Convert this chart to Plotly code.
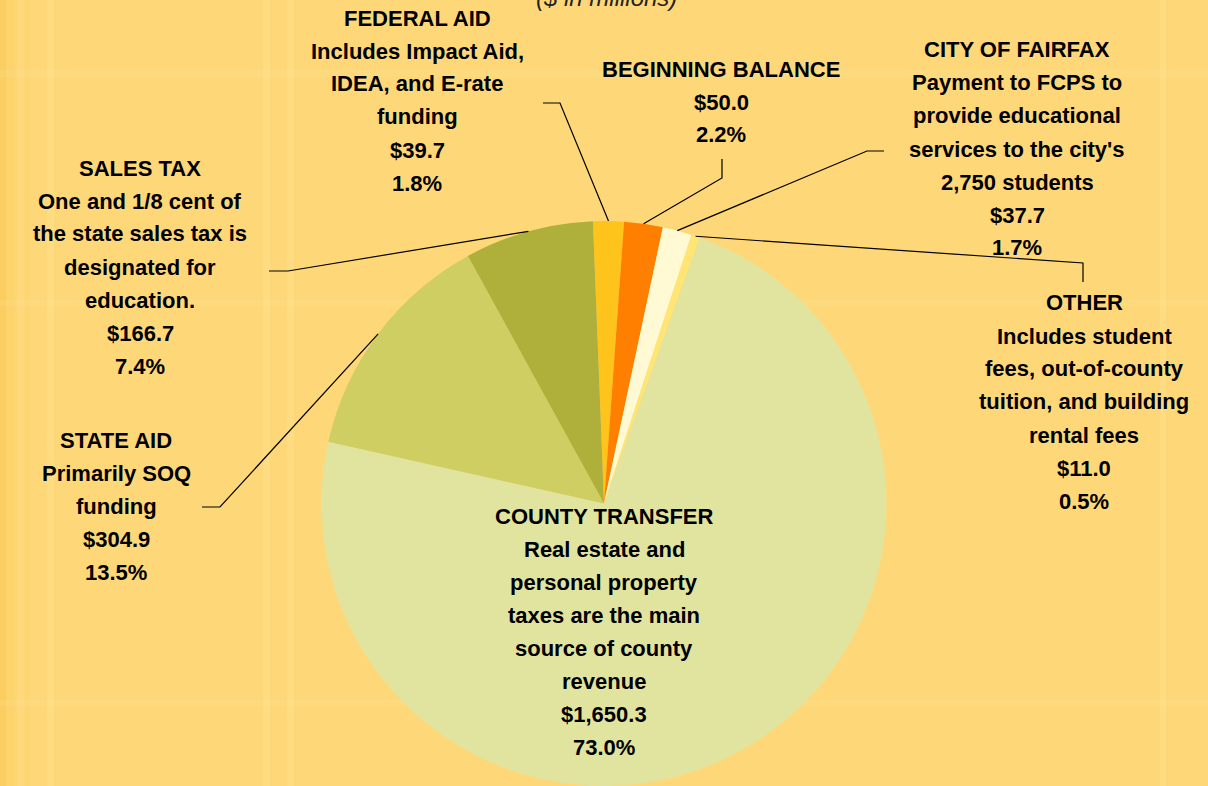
import math
import plotly.graph_objects as go

W, H = 1208, 786

# ---- data ----
categories = ["FEDERAL AID", "BEGINNING BALANCE", "CITY OF FAIRFAX", "OTHER",
              "COUNTY TRANSFER", "STATE AID", "SALES TAX"]
values = [39.7, 50.0, 37.7, 11.0, 1650.3, 304.9, 166.7]
descriptions = [
    ["Includes Impact Aid,", "IDEA, and E-rate", "funding"],
    [],
    ["Payment to FCPS to", "provide educational", "services to the city's", "2,750 students"],
    ["Includes student", "fees, out-of-county", "tuition, and building", "rental fees"],
    ["Real estate and", "personal property", "taxes are the main", "source of county", "revenue"],
    ["Primarily SOQ", "funding"],
    ["One and 1/8 cent of", "the state sales tax is", "designated for", "education."],
]
subtitle = "($ in millions)"

# ---- styles ----
colors = ["#FFC41C", "#FF8000", "#FFFAD3", "#FFE574", "#E1E49F", "#CECE62", "#AFAF3B"]
bg = "#FED878"
FONT = "Liberation Sans, Arial, sans-serif"
FS = 22
rotation = -2.25

# label block layout: (center x px, first line y px, line step px)
label_pos = [
    (417, 18, 33),
    (721, 70, 32),
    (1017, 50, 33),
    (1084, 303, 33),
    (604, 516, 33),
    (116, 440, 33),
    (140, 168, 33),
]
# leader-line label-side points (start, elbow) in px; None -> no leader
leader = [
    [(543, 103), (560, 103)],
    [(722, 159), (722, 178)],
    [(884, 151), (867, 151)],
    [(1083, 282), (1083, 263)],
    None,
    [(202, 507), (220, 507)],
    [(269, 271), (288, 271)],
]

total = sum(values)
dom_top_px = 221
dom_y = [0, (H - dom_top_px) / H]
r_px = min(W, H - dom_top_px) / 2
cx_px, cy_px = W / 2, dom_top_px + r_px


def px(x):
    return x / W


def py(y):
    return 1 - y / H


fig = go.Figure()
fig.add_trace(go.Pie(
    labels=categories, values=values, sort=False, direction="clockwise",
    rotation=rotation, marker=dict(colors=colors, line=dict(width=0)),
    textinfo="none", hoverinfo="label+value+percent", showlegend=False,
    domain=dict(x=[0, 1], y=dom_y),
))

annotations = []
shapes = []

# subtle background shading: warmer left edge + faint plaid stripes
for x0, x1, a in [(0, 6, 0.45), (6, 14, 0.25), (14, 30, 0.12)]:
    shapes.append(dict(type="rect", xref="paper", yref="paper", layer="below",
                       x0=px(x0), x1=px(x1), y0=0, y1=1, line=dict(width=0),
                       fillcolor=f"rgba(250,196,70,{a})"))
for x0, x1 in [(17, 24), (47, 54), (263, 270), (287, 294), (1160, 1166)]:
    shapes.append(dict(type="rect", xref="paper", yref="paper", layer="below",
                       x0=px(x0), x1=px(x1), y0=0, y1=1, line=dict(width=0),
                       fillcolor="rgba(255,236,170,0.18)"))
for y0, y1 in [(70, 77), (300, 306), (700, 706)]:
    shapes.append(dict(type="rect", xref="paper", yref="paper", layer="below",
                       x0=0, x1=1, y0=py(y1), y1=py(y0), line=dict(width=0),
                       fillcolor="rgba(255,236,170,0.15)"))

cum = 0.0
for i, cat in enumerate(categories):
    v = values[i]
    pct = v / total * 100
    mid = cum + v / 2
    cum += v
    ang = math.radians(rotation + mid / total * 360)
    ex = cx_px + r_px * math.sin(ang)
    ey = cy_px - r_px * math.cos(ang)

    lines = [cat] + descriptions[i] + [f"${v:,.1f}", f"{pct:.1f}%"]
    lx, ly, step = label_pos[i]
    for k, t in enumerate(lines):
        annotations.append(dict(
            x=px(lx), y=py(ly + k * step), xref="paper", yref="paper",
            text=f"<b>{t}</b>", showarrow=False, xanchor="center", yanchor="middle",
            font=dict(family=FONT, size=FS, color="#000000"),
        ))
    if leader[i] is not None:
        (sx, sy), (bx, by) = leader[i]
        path = (f"M {px(sx)},{py(sy)} L {px(bx)},{py(by)} L {px(ex)},{py(ey)}")
        shapes.append(dict(type="path", xref="paper", yref="paper", path=path,
                           line=dict(color="#000000", width=1.2)))

annotations.append(dict(
    x=px(606), y=py(-3), xref="paper", yref="paper", text=f"<i>{subtitle}</i>",
    showarrow=False, xanchor="center", yanchor="middle",
    font=dict(family=FONT, size=24, color="#222222"),
))

fig.update_layout(
    width=W, height=H, margin=dict(l=0, r=0, t=0, b=0),
    paper_bgcolor=bg, plot_bgcolor=bg,
    annotations=annotations, shapes=shapes,
)
fig.write_html(
    "out.html",
    config={"displayModeBar": False},
    post_script="document.body.style.margin='0';document.body.style.overflow='hidden';",
)
